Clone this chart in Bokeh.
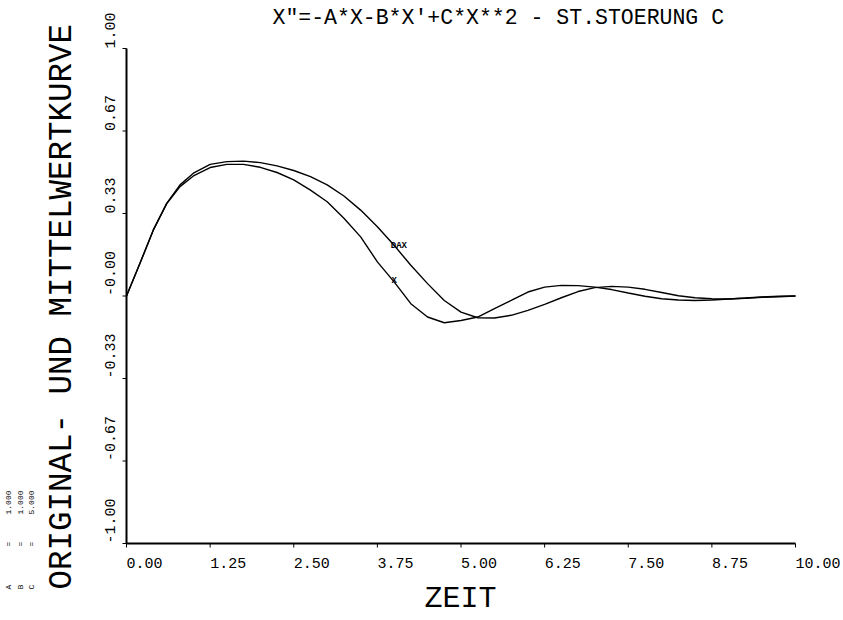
from math import pi
from bokeh.plotting import figure
from bokeh.models import Range1d
from bokeh.core.properties import value
from bokeh.embed import file_html
from bokeh.resources import INLINE

# ---- data ----
zeit = [0, 0.2, 0.4, 0.6, 0.8, 1.0, 1.25, 1.5, 1.75, 2.0, 2.25, 2.5, 2.75, 3.0,
        3.25, 3.5, 3.75, 4.0, 4.25, 4.5, 4.75, 5.0, 5.25, 5.5, 5.75, 6.0, 6.25,
        6.5, 6.75, 7.0, 7.25, 7.5, 7.75, 8.0, 8.25, 8.5, 8.75, 9.0, 9.25, 9.5,
        9.75, 10.0]
x_original = [0, 0.131, 0.266, 0.372, 0.442, 0.485, 0.519, 0.532, 0.532, 0.520,
              0.499, 0.469, 0.428, 0.381, 0.314, 0.239, 0.138, 0.057, -0.031,
              -0.085, -0.108, -0.099, -0.085, -0.051, -0.018, 0.016, 0.036,
              0.043, 0.042, 0.036, 0.026, 0.012, -0.001, -0.011, -0.016, -0.018,
              -0.016, -0.012, -0.008, -0.004, -0.001, 0.0]
x_mittel = [0, 0.131, 0.266, 0.374, 0.449, 0.496, 0.532, 0.543, 0.545, 0.539,
            0.526, 0.507, 0.482, 0.449, 0.404, 0.347, 0.280, 0.205, 0.124,
            0.050, -0.018, -0.065, -0.088, -0.089, -0.078, -0.058, -0.034,
            -0.007, 0.018, 0.034, 0.039, 0.036, 0.027, 0.014, 0.001, -0.007,
            -0.011, -0.012, -0.009, -0.005, -0.003, 0.0]

x_ticks = [0, 1.25, 2.5, 3.75, 5.0, 6.25, 7.5, 8.75, 10.0]
x_tick_labels = ["0.00", "1.25", "2.50", "3.75", "5.00", "6.25", "7.50", "8.75", "10.00"]
y_ticks = [-1.0, -2 / 3, -1 / 3, 0.0, 1 / 3, 2 / 3, 1.0]
y_tick_labels = ["-1.00", "-0.67", "-0.33", "-0.00", "0.33", "0.67", "1.00"]

title_text = "X\"=-A*X-B*X'+C*X**2 - ST.STOERUNG C"
x_title = "ZEIT"
y_title = "ORIGINAL- UND MITTELWERTKURVE"
curve_names = ["X", "DAX"]
curve_name_at = [(3.96, 0.059), (3.95, 0.204)]
param_names = ["A", "B", "C"]
param_values = ["1.000", "1.000", "5.000"]

# ---- layout (pixels) ----
W, H = 843, 620
X0, X1 = 0.0, 10.0          # data limits of the plotted axes
Y0, Y1 = -1.0, 1.0
PX_L, PX_R = 126, 795       # pixel positions of X0, X1
PY_T, PY_B = 48, 543        # pixel positions of Y1, Y0
sx = (PX_R - PX_L) / (X1 - X0)
sy = (PY_B - PY_T) / (Y1 - Y0)


def xd(px):
    return X0 + (px - PX_L) / sx


def yd(py):
    return Y0 + (PY_B - py) / sy


FONT = "Liberation Mono"

p = figure(width=W, height=H, min_border=0,
           x_range=Range1d(xd(0), xd(W)), y_range=Range1d(yd(H), yd(0)),
           x_axis_location=None, y_axis_location=None,
           output_backend="svg", toolbar_location=None)
p.grid.visible = False
p.outline_line_color = None
p.background_fill_color = "white"
p.border_fill_color = "white"


def txt(xs, ys, texts, size, angle=0.0, align="left", style="normal"):
    p.text(x=xs, y=ys, text=texts, angle=angle, text_align=align,
           text_baseline="middle", text_font=value(FONT),
           text_font_size=value(size), text_font_style=style, text_color="black")


# axes drawn on the same scales
p.segment(x0=[X0], y0=[Y0], x1=[X1], y1=[Y0], line_color="black", line_width=2)
p.segment(x0=[X0], y0=[Y0], x1=[X0], y1=[Y1], line_color="black", line_width=2)
p.segment(x0=x_ticks, y0=[Y0] * len(x_ticks), x1=x_ticks,
          y1=[yd(PY_B + 4)] * len(x_ticks), line_color="black", line_width=1)
p.segment(x0=[X0] * len(y_ticks), y0=y_ticks, x1=[xd(PX_L - 4)] * len(y_ticks),
          y1=y_ticks, line_color="black", line_width=1)

# curves
p.line(zeit, x_original, line_color="black", line_width=1.4)
p.line(zeit, x_mittel, line_color="black", line_width=1.4)

# tick labels: start at the tick, as on the plotter output
txt(x_ticks, [yd(562)] * len(x_ticks), x_tick_labels, "15px")
txt([xd(109)] * len(y_ticks), y_ticks, y_tick_labels, "15px", angle=pi / 2)

# titles
txt([xd(272)], [yd(17)], [title_text], "21.5px")
txt([xd(424)], [yd(598)], [x_title], "30px")
txt([xd(62)], [yd(589)], [y_title], "32.5px", angle=pi / 2)

# curve names
txt([c[0] for c in curve_name_at], [c[1] for c in curve_name_at], curve_names,
    "9px", style="bold")

# parameter legend (bottom left, rotated)
n_par = len(param_names)
col_x = [xd(8 + i * 11.5) for i in range(n_par)]
txt(col_x, [yd(589)] * n_par, param_names, "8px", angle=pi / 2)
txt(col_x, [yd(546)] * n_par, ["="] * n_par, "8px", angle=pi / 2)
txt(col_x, [yd(514)] * n_par, param_values, "8px", angle=pi / 2)

open("out.html", "w").write(file_html(p, INLINE))
